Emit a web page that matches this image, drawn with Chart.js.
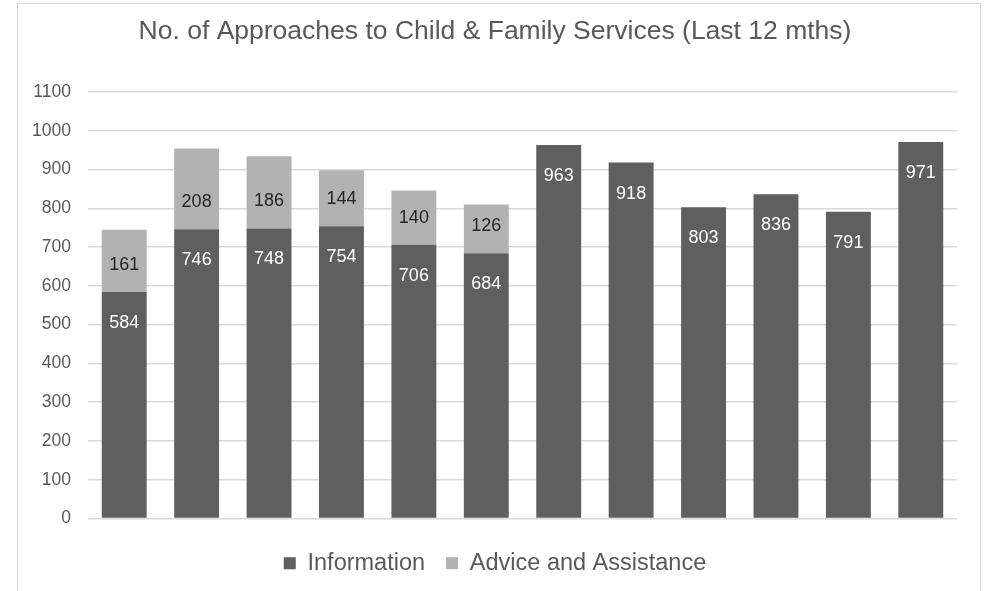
<!DOCTYPE html>
<html>
<head>
<meta charset="utf-8">
<script src="https://cdn.jsdelivr.net/npm/chart.js@4"></script>
<style>
  html, body { margin: 0; padding: 0; background: #ffffff; overflow: hidden; }
  #wrap { position: relative; width: 984px; height: 591px; }
  #frame { position: absolute; left: 17px; top: 3px; width: 962px; height: 700px; border: 1px solid #d9d9d9; pointer-events: none; }
  canvas { position: absolute; left: 0; top: 0; }
</style>
</head>
<body>
<div id="wrap">
  <canvas id="c" width="984" height="591"></canvas>
  <div id="frame"></div>
</div>
<script>
const titleText = 'No. of Approaches to Child & Family Services (Last 12 mths)';
const categories = ['1', '2', '3', '4', '5', '6', '7', '8', '9', '10', '11', '12'];
const seriesNames = ['Information', 'Advice and Assistance'];
const informationValues = [584, 746, 748, 754, 706, 684, 963, 918, 803, 836, 791, 971];
const adviceValues = [161, 208, 186, 144, 140, 126, null, null, null, null, null, null];
const yTickMin = 0;
const yTickMax = 1100;
const yTickStep = 100;

const FONT = "'Liberation Sans', Arial, sans-serif";

const labelPlugin = {
  id: 'segLabels',
  afterDatasetsDraw(chart) {
    const ctx = chart.ctx;
    ctx.save();
    ctx.font = '18px ' + FONT;
    ctx.textAlign = 'center';
    ctx.textBaseline = 'middle';
    chart.data.datasets.forEach((ds, di) => {
      const meta = chart.getDatasetMeta(di);
      meta.data.forEach((el, i) => {
        const v = ds.data[i];
        if (v === null || v === undefined) return;
        let y;
        if (di === 0) {
          y = el.y + 31;
          ctx.fillStyle = '#ffffff';
        } else {
          y = el.base - 27;
          ctx.fillStyle = '#262626';
        }
        ctx.fillText(String(v), el.x, y);
      });
    });
    ctx.restore();
  }
};

new Chart(document.getElementById('c'), {
  type: 'bar',
  data: {
    labels: categories,
    datasets: [
      { label: seriesNames[0], data: informationValues, backgroundColor: '#5f5f5f', borderWidth: 0 },
      { label: seriesNames[1], data: adviceValues, backgroundColor: '#b2b2b2', borderWidth: 0 }
    ]
  },
  options: {
    responsive: false,
    animation: false,
    devicePixelRatio: 1,
    layout: { padding: { left: 33, right: 27, top: 0, bottom: 6 } },
    datasets: { bar: { categoryPercentage: 1.0, barPercentage: 0.62 } },
    plugins: {
      title: {
        display: true,
        text: titleText,
        color: '#595959',
        font: { family: FONT, size: 26.5, weight: 'normal', lineHeight: 1.2 },
        padding: { top: 16, bottom: 44.2 }
      },
      legend: {
        display: true,
        position: 'bottom',
        labels: {
          color: '#595959',
          font: { family: FONT, size: 23.5 },
          boxWidth: 12,
          boxHeight: 12,
          padding: 21
        }
      },
      tooltip: { enabled: false }
    },
    scales: {
      x: {
        stacked: true,
        display: true,
        grid: { display: false, drawTicks: false },
        border: { display: false },
        ticks: { display: false },
        afterFit(scale) { scale.height = 12; }
      },
      y: {
        stacked: true,
        min: yTickMin,
        max: yTickMax,
        grid: { color: '#d9d9d9', lineWidth: 1.5, drawTicks: false },
        border: { display: false },
        ticks: {
          stepSize: yTickStep,
          color: '#595959',
          padding: 17,
          font: { family: FONT, size: 17.5 },
          callback: (value) => String(value)
        },
        afterFit(scale) { scale.width = 55; }
      }
    }
  },
  plugins: [labelPlugin]
});
</script>
</body>
</html>
